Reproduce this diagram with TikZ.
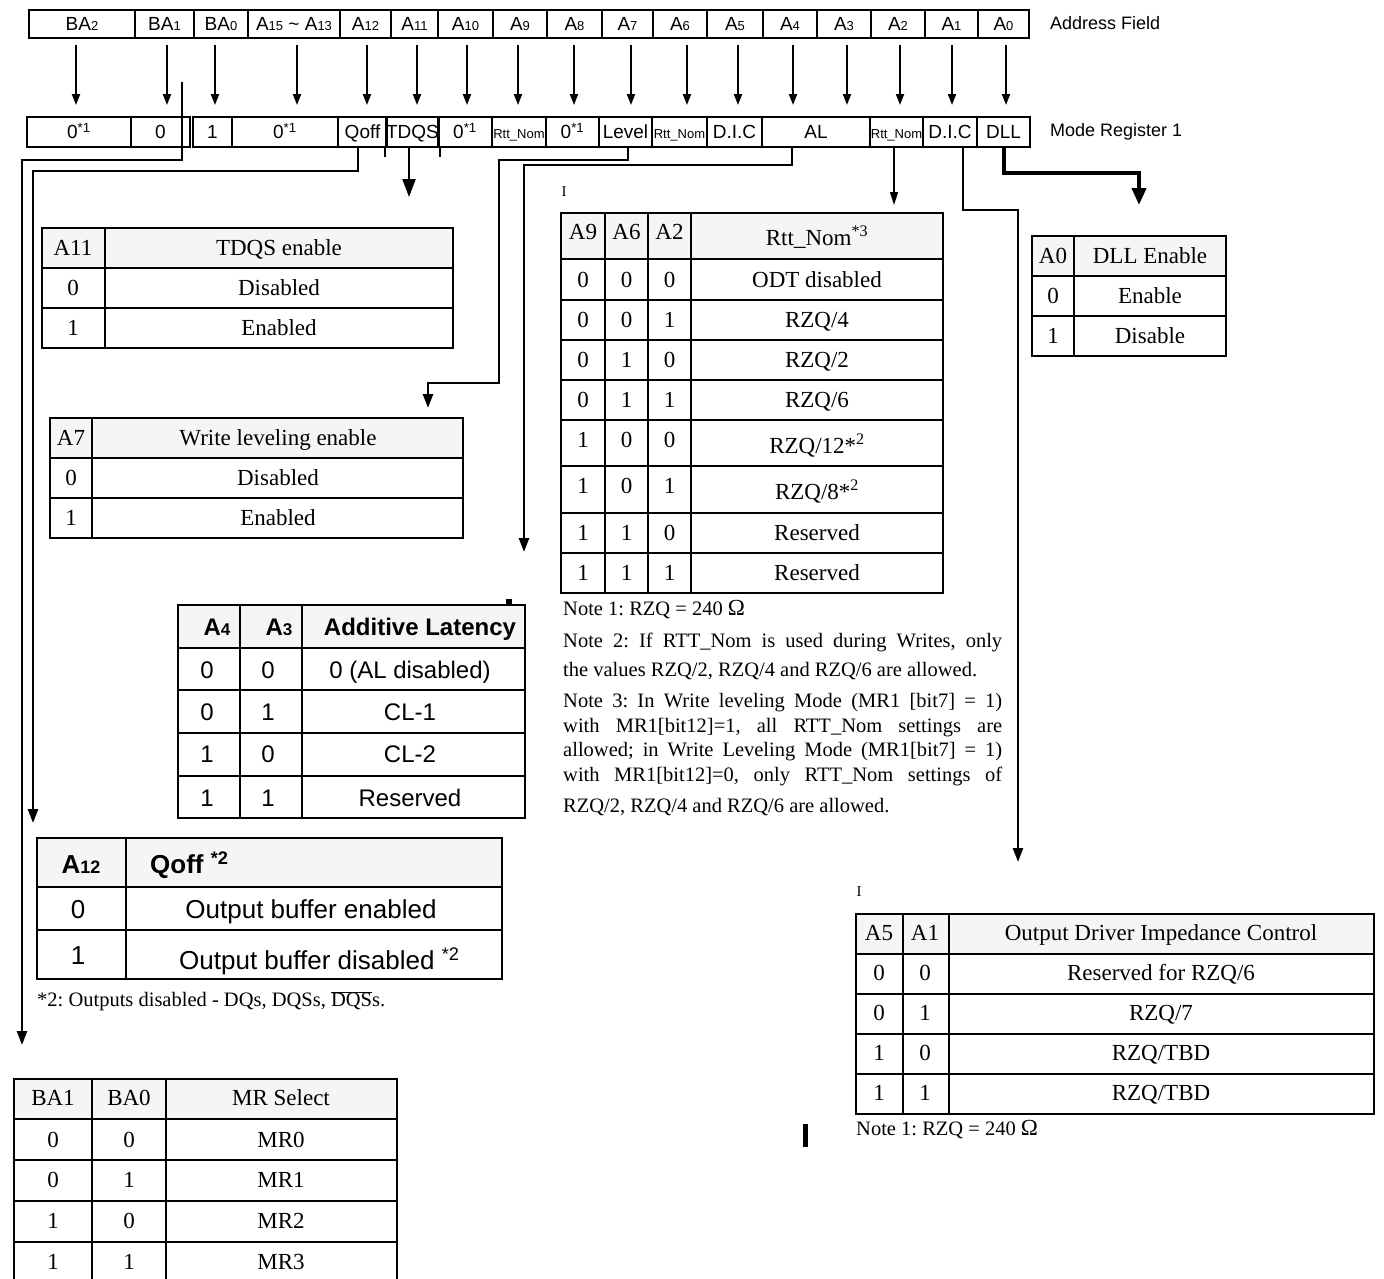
\documentclass[tikz,border=0pt]{standalone}
\usepackage{fontspec}
\setmainfont{Liberation Serif}
\setsansfont{Liberation Sans}
\usetikzlibrary{arrows.meta,positioning}
\definecolor{headgray}{RGB}{245,245,245}
\newcommand{\dg}[2]{{\fontsize{#1}{#1}\selectfont #2}}
\frenchspacing

\begin{document}
\begin{tikzpicture}[x=1pt,y=-1pt,
    fld/.style={draw, line width=1.8pt, inner sep=0pt, text height=13.7pt, text depth=0pt,
                font=\sffamily\fontsize{19}{19}\selectfont},
    lbl/.style={inner sep=0pt, anchor=west, text height=13pt, text depth=0pt,
                font=\sffamily\fontsize{18}{18}\selectfont},
    tbl/.style={line width=2.6pt},
    tx/.style={inner sep=0pt, text height=15.2pt, text depth=0pt, font=\fontsize{23}{23}\selectfont},
    sx/.style={inner sep=0pt, text height=17.3pt, text depth=0pt, font=\sffamily\fontsize{24}{24}\selectfont},
    sxb/.style={sx, font=\sffamily\bfseries\fontsize{24}{24}\selectfont},
    qx/.style={inner sep=0pt, text height=18.7pt, text depth=0pt, font=\sffamily\fontsize{26}{26}\selectfont},
    qxb/.style={qx, font=\sffamily\bfseries\fontsize{26}{26}\selectfont},
    note/.style={inner sep=0pt, anchor=west, text height=13.5pt, text depth=0pt,
                 font=\fontsize{20.5}{20.5}\selectfont},
    wire/.style={line width=2.4pt},
    downarr/.style={-{Triangle[width=10pt,length=14pt]}},
    arr/.style={line width=2pt, -{Triangle[width=8pt,length=11pt]}},
    bigarr/.style={line width=2.2pt, -{Triangle[width=13pt,length=18pt]}},
    thinarr/.style={line width=1.4pt, -{Triangle[width=8pt,length=13pt]}},
    dllwire/.style={line width=4pt, -{Triangle[width=14pt,length=17pt]}}]

\useasboundingbox (0,0) rectangle (1384,1278);
\fill[white] (0,0) rectangle (1384,1278);

% address field and the arrows down to mode register 1
\foreach \xl/\xr/\lab/\ax [count=\i] in {29/135/BA\dg{13}{2}/76, 135/194/BA\dg{13}{1}/167,
    194/248/BA\dg{13}{0}/215, 248/340/A\dg{13}{15} \textasciitilde{} A\dg{13}{13}/297,
    340/391/A\dg{13}{12}/367, 391/438/A\dg{13}{11}/417, 438/493/A\dg{13}{10}/467,
    493/547/A\dg{13}{9}/518, 547/602/A\dg{13}{8}/574, 602/653/A\dg{13}{7}/631,
    653/707/A\dg{13}{6}/687, 707/763/A\dg{13}{5}/738, 763/817/A\dg{13}{4}/793,
    817/871/A\dg{13}{3}/847, 871/925/A\dg{13}{2}/900, 925/978/A\dg{13}{1}/952,
    978/1029/A\dg{13}{0}/1006}{
  \pgfmathsetmacro{\w}{\xr-\xl}
  \node[fld, minimum width=\w pt, minimum height=28pt] (a\i) at ({(\xl+\xr)/2},24) {\lab};
  \coordinate (af\i) at (\ax,45);
  \coordinate (mt\i) at (\ax,105);
  \draw[arr] (af\i) -- (mt\i);
}
\node[lbl] (addrlbl) at (1050,23) {Address Field};

% mode register 1
\foreach \xl/\xr/\lab [count=\i] in {27/131/0\textsuperscript{*1}, 131/190/0, 193/232/1,
    232/338/0\textsuperscript{*1}, 338/387/Qoff, 387/438/TDQS, 438/492/0\textsuperscript{*1},
    492/546/\dg{13}{Rtt\_Nom}, 546/599/0\textsuperscript{*1}, 599/652/Level,
    652/707/\dg{13}{Rtt\_Nom}, 707/762/D.I.C, 762/870/AL, 870/923/\dg{13}{Rtt\_Nom},
    923/977/D.I.C, 977/1030/DLL}{
  \pgfmathsetmacro{\w}{\xr-\xl}
  \node[fld, minimum width=\w pt, minimum height=30pt] (m\i) at ({(\xl+\xr)/2},132) {\lab};
}
\draw[line width=1.8pt] (m6.south west) -- ++(0,9) (m6.south east) -- ++(0,9);
\node[lbl] (mrlbl) at (1050,130) {Mode Register 1};

% TDQS enable
\fill[headgray] (42,228) rectangle (453,268);
\draw[tbl] (42,228) rectangle (453,348) (42,268) -- (453,268) (42,308) -- (453,308) (105,228) -- (105,348);
\foreach \ca/\cb [count=\i] in {A11/TDQS enable, 0/Disabled, 1/Enabled}{
  \node[tx] (tq\i-a) at (73,208+40*\i) {\ca};
  \node[tx] (tq\i-b) at (279,208+40*\i) {\cb};
}

% write leveling
\fill[headgray] (50,418) rectangle (463,458);
\draw[tbl] (50,418) rectangle (463,538) (50,458) -- (463,458) (50,498) -- (463,498) (92,418) -- (92,538);
\foreach \ca/\cb [count=\i] in {A7/Write leveling enable, 0/Disabled, 1/Enabled}{
  \node[tx] (wl\i-a) at (71,398+40*\i) {\ca};
  \node[tx] (wl\i-b) at (278,398+40*\i) {\cb};
}

% Rtt_Nom
\node[inner sep=0pt, font=\fontsize{15}{15}\selectfont] (stray1) at (564,192) {I};
\fill[headgray] (561,213) rectangle (943,259);
\draw[tbl] (561,213) rectangle (943,593);
\foreach \y in {259,300,340,380,420,466,513,553} \draw[tbl] (561,\y) -- (943,\y);
\foreach \x in {605,648,691} \draw[tbl] (\x,213) -- (\x,593);
\node[tx] (rt0-a) at (583,232) {A9};
\node[tx] (rt0-b) at (626.5,232) {A6};
\node[tx] (rt0-c) at (669.5,232) {A2};
\node[tx] (rt0-d) at (817,238) {Rtt\_Nom\textsuperscript{*3}};
\foreach \ca/\cb/\cc/\cd/\ny/\ty [count=\i] in {0/0/0/ODT disabled/280/280,
    0/0/1/{RZQ/4}/320/320, 0/1/0/{RZQ/2}/360/360, 0/1/1/{RZQ/6}/400/400,
    1/0/0/{RZQ/12*\textsuperscript{2}}/440/446, 1/0/1/{RZQ/8*\textsuperscript{2}}/486/492,
    1/1/0/Reserved/533/533, 1/1/1/Reserved/573/573}{
  \node[tx] (rt\i-a) at (583,\ny) {\ca};
  \node[tx] (rt\i-b) at (626.5,\ny) {\cb};
  \node[tx] (rt\i-c) at (669.5,\ny) {\cc};
  \node[tx] (rt\i-d) at (817,\ty) {\cd};
}

% notes
\node[note] (n1) at (563,609) {Note 1: RZQ = 240 \dg{23}{Ω}};
\node[note] (n2a) at (563,641) {\makebox[439pt][s]{Note 2: If RTT\_Nom is used during Writes, only}};
\node[note] (n2b) at (563,670) {the values RZQ/2, RZQ/4 and RZQ/6 are allowed.};
\node[note] (n3a) at (563,701) {\makebox[439pt][s]{Note 3: In Write leveling Mode (MR1 [bit7] = 1)}};
\node[note] (n3b) at (563,726) {\makebox[439pt][s]{with MR1[bit12]=1, all RTT\_Nom settings are}};
\node[note] (n3c) at (563,750) {\makebox[439pt][s]{allowed; in Write Leveling Mode (MR1[bit7] = 1)}};
\node[note] (n3d) at (563,775) {\makebox[439pt][s]{with MR1[bit12]=0, only RTT\_Nom settings of}};
\node[note] (n3e) at (563,806) {RZQ/2, RZQ/4 and RZQ/6 are allowed.};

% additive latency
\fill (506,599) rectangle (512,606);
\fill[headgray] (178,605) rectangle (525,648);
\draw[tbl] (178,605) rectangle (525,818);
\foreach \y in {648,690,733,776} \draw[tbl] (178,\y) -- (525,\y);
\foreach \x in {240,302} \draw[tbl] (\x,605) -- (\x,818);
\node[sxb] (al0-a) at (217,627) {A\dg{17}{4}};
\node[sxb] (al0-b) at (279,627) {A\dg{17}{3}};
\node[sxb] (al0-c) at (420,627) {Additive Latency};
\foreach \ca/\cb/\cc/\y [count=\i] in {0/0/0 (AL disabled)/670, 0/1/CL-1/712, 1/0/CL-2/754, 1/1/Reserved/798}{
  \node[sx] (al\i-a) at (207,\y) {\ca};
  \node[sx] (al\i-b) at (268,\y) {\cb};
  \node[sx] (al\i-c) at (410,\y) {\cc};
}

% Qoff
\fill[headgray] (37,838) rectangle (502,887);
\draw[tbl] (37,838) rectangle (502,979) (37,887) -- (502,887) (37,930) -- (502,930) (126,838) -- (126,979);
\node[qxb] (qo0-a) at (81,864) {A\dg{18}{12}};
\node[qxb, anchor=west] (qo0-b) at (150,864) {Qoff \textsuperscript{*2}};
\node[qx] (qo1-a) at (78,909) {0};
\node[qx] (qo1-b) at (311,909) {Output buffer enabled};
\node[qx] (qo2-a) at (78,955) {1};
\node[qx, anchor=west] (qo2-b) at (179,960) {Output buffer disabled \textsuperscript{*2}};
\node[note] (qnote) at (37,1000) {*2: Outputs disabled - DQs, DQSs, \(\overline{\mbox{DQS}}\)s.};

% DLL enable
\fill[headgray] (1032,236) rectangle (1226,276);
\draw[tbl] (1032,236) rectangle (1226,356) (1032,276) -- (1226,276) (1032,316) -- (1226,316) (1074,236) -- (1074,356);
\foreach \ca/\cb [count=\i] in {A0/DLL Enable, 0/Enable, 1/Disable}{
  \node[tx] (dl\i-a) at (1053,216+40*\i) {\ca};
  \node[tx] (dl\i-b) at (1150,216+40*\i) {\cb};
}

% output driver impedance control
\node[inner sep=0pt, font=\fontsize{15}{15}\selectfont] (stray2) at (859,892) {I};
\fill[headgray] (856,914) rectangle (1374,954);
\draw[tbl] (856,914) rectangle (1374,1114);
\foreach \y in {954,994,1034,1074} \draw[tbl] (856,\y) -- (1374,\y);
\foreach \x in {903,949} \draw[tbl] (\x,914) -- (\x,1114);
\foreach \ca/\cb/\cc [count=\i] in {A5/A1/Output Driver Impedance Control, 0/0/{Reserved for RZQ/6},
    0/1/{RZQ/7}, 1/0/{RZQ/TBD}, 1/1/{RZQ/TBD}}{
  \node[tx] (od\i-a) at (879,893+40*\i) {\ca};
  \node[tx] (od\i-b) at (925,893+40*\i) {\cb};
  \node[tx] (od\i-c) at (1161,893+40*\i) {\cc};
}
\node[note] (onote) at (856,1129) {Note 1: RZQ = 240 \dg{23}{Ω}};
\fill (803,1124) rectangle (808,1147);

% MR select
\fill[headgray] (14,1079) rectangle (397,1119);
\draw[tbl] (14,1079) rectangle (397,1283);
\foreach \y in {1119,1160,1201,1242} \draw[tbl] (14,\y) -- (397,\y);
\foreach \x in {92,166} \draw[tbl] (\x,1079) -- (\x,1283);
\foreach \ca/\cb/\cc/\y [count=\i] in {BA1/BA0/MR Select/1098, 0/0/MR0/1140, 0/1/MR1/1180,
    1/0/MR2/1221, 1/1/MR3/1262}{
  \node[tx] (ms\i-a) at (53,\y) {\ca};
  \node[tx] (ms\i-b) at (129,\y) {\cb};
  \node[tx] (ms\i-c) at (281,\y) {\cc};
}

% connectors from mode register 1 to the tables
\coordinate (ba1-top) at (182,82);
\coordinate (mrsel-in) at (22,1045);
\coordinate (qoff-in) at (33,823);
\coordinate (tdqs-in) at (409,197);
\coordinate (lvl-bend) at (499,383);
\coordinate (wl-in) at (428,408);
\coordinate (al-in) at (524,552);
\coordinate (rtt-in) at (894,205);
\coordinate (odic-in) at (1018,862);
\coordinate (dll-in) at (1139,205);

\draw[wire, downarr] (ba1-top) -- ++(0,78) -| (mrsel-in);
\draw[wire, downarr] ([xshift=-4.5pt]m5.south) -- ++(0,23) -| (qoff-in);
\draw[bigarr] ([xshift=-3.5pt]m6.south) -- (tdqs-in);
\draw[wire, downarr] ([xshift=2.5pt]m10.south) -- ++(0,12) -| (lvl-bend) -| (wl-in);
\draw[wire, downarr] ([xshift=-24pt]m13.south) -- ++(0,17) -| (al-in);
\draw[thinarr] ([xshift=-2.5pt]m14.south) -- (rtt-in);
\draw[wire, downarr] ([xshift=13pt]m15.south) -- ++(0,62) -| (odic-in);
\draw[dllwire] ([xshift=0.5pt]m16.south) -- ++(0,25) -| (dll-in);
\end{tikzpicture}
\end{document}
